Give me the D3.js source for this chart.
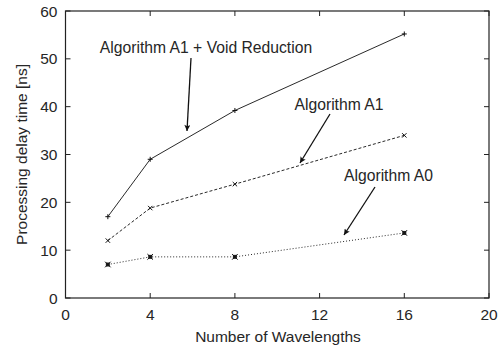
<!DOCTYPE html>
<html>
<head>
<meta charset="utf-8">
<script src="https://cdn.jsdelivr.net/npm/d3@7"></script>
<style>
  body { margin: 0; background: #fff; }
  text { font-family: "Liberation Sans", Arial, sans-serif; fill: #262626; }
</style>
</head>
<body>
<svg id="chart" width="504" height="348"></svg>
<script>
// data
const wavelengths = [2, 4, 8, 16];
const delayA1VR = [17, 29, 39.2, 55.2];
const delayA1 = [12, 18.8, 23.8, 34];
const delayA0 = [7, 8.6, 8.6, 13.6];
const xTicks = [0, 4, 8, 12, 16, 20];
const yTicks = [0, 10, 20, 30, 40, 50, 60];

const svg = d3.select('#chart');
const margin = { left: 65.5, right: 15, top: 11, bottom: 50 };
const W = 504, H = 348;

const x = d3.scaleLinear().domain([0, 20]).range([margin.left, W - margin.right]);
const y = d3.scaleLinear().domain([0, 60]).range([H - margin.bottom, margin.top]);

// frame
svg.append('rect')
    .attr('x', x(0)).attr('y', y(60))
    .attr('width', x(20) - x(0)).attr('height', y(0) - y(60))
    .attr('fill', 'none').attr('stroke', '#222').attr('stroke-width', 1.2);

// inward ticks on all four sides
const tickLen = 5;
const fs = 15.5;
xTicks.forEach(t => {
    svg.append('line').attr('x1', x(t)).attr('x2', x(t))
        .attr('y1', y(0)).attr('y2', y(0) - tickLen).attr('stroke', '#222');
    svg.append('line').attr('x1', x(t)).attr('x2', x(t))
        .attr('y1', y(60)).attr('y2', y(60) + tickLen).attr('stroke', '#222');
    svg.append('text').attr('x', x(t)).attr('y', y(0) + 22)
        .attr('text-anchor', 'middle').attr('font-size', fs).text(t);
});
yTicks.forEach(t => {
    svg.append('line').attr('x1', x(0)).attr('x2', x(0) + tickLen)
        .attr('y1', y(t)).attr('y2', y(t)).attr('stroke', '#222');
    svg.append('line').attr('x1', x(20)).attr('x2', x(20) - tickLen)
        .attr('y1', y(t)).attr('y2', y(t)).attr('stroke', '#222');
    svg.append('text').attr('x', x(0) - 8).attr('y', y(t) + 5.5)
        .attr('text-anchor', 'end').attr('font-size', fs).text(t);
});

// axis titles
svg.append('text').attr('x', 278).attr('y', 342)
    .attr('text-anchor', 'middle').attr('font-size', fs).text('Number of Wavelengths');
svg.append('text')
    .attr('transform', `translate(27,${(y(0) + y(60)) / 2}) rotate(-90)`)
    .attr('text-anchor', 'middle').attr('font-size', fs).text('Processing delay time [ns]');

// series
const series = [
    { values: delayA1VR, dash: null, marker: 'plus' },
    { values: delayA1, dash: '3,2', marker: 'cross' },
    { values: delayA0, dash: '1,2', marker: 'star' }
];
const line = d3.line().x(d => x(d[0])).y(d => y(d[1]));

series.forEach(s => {
    const pts = wavelengths.map((w, i) => [w, s.values[i]]);
    svg.append('path').datum(pts)
        .attr('d', line)
        .attr('fill', 'none').attr('stroke', '#111').attr('stroke-width', 0.9)
        .attr('stroke-dasharray', s.dash);
    pts.forEach(p => {
        const cx = x(p[0]), cy = y(p[1]);
        const g = svg.append('g').attr('stroke', '#111').attr('stroke-width', 1);
        if (s.marker === 'plus') {
            g.append('line').attr('x1', cx - 2.5).attr('x2', cx + 2.5).attr('y1', cy).attr('y2', cy);
            g.append('line').attr('x1', cx).attr('x2', cx).attr('y1', cy - 2.5).attr('y2', cy + 2.5);
        }
        if (s.marker === 'cross') {
            g.append('line').attr('x1', cx - 2.2).attr('x2', cx + 2.2).attr('y1', cy - 2.2).attr('y2', cy + 2.2);
            g.append('line').attr('x1', cx - 2.2).attr('x2', cx + 2.2).attr('y1', cy + 2.2).attr('y2', cy - 2.2);
        }
        if (s.marker === 'star') {
            g.append('rect').attr('x', cx - 2).attr('y', cy - 2).attr('width', 4).attr('height', 4)
                .attr('fill', '#222').attr('stroke', 'none');
            g.append('line').attr('x1', cx - 2.8).attr('x2', cx + 2.8).attr('y1', cy - 2.8).attr('y2', cy + 2.8);
            g.append('line').attr('x1', cx - 2.8).attr('x2', cx + 2.8).attr('y1', cy + 2.8).attr('y2', cy - 2.8);
        }
    });
});

// annotations with arrows
svg.append('defs').append('marker')
    .attr('id', 'head').attr('viewBox', '0 0 10 10')
    .attr('refX', 10).attr('refY', 5)
    .attr('markerWidth', 10).attr('markerHeight', 6)
    .attr('markerUnits', 'userSpaceOnUse')
    .attr('orient', 'auto')
    .append('path').attr('d', 'M0,0 L10,5 L0,10 L2,5 Z').attr('fill', '#111');

const notes = [
    { text: 'Algorithm A1 + Void Reduction', tx: 206, ty: 53, from: [191, 58], to: [187, 131] },
    { text: 'Algorithm A1', tx: 339, ty: 110, from: [330, 114], to: [300, 163] },
    { text: 'Algorithm A0', tx: 388.5, ty: 181, from: [375, 187], to: [344, 235] }
];
notes.forEach(n => {
    svg.append('text').attr('x', n.tx).attr('y', n.ty)
        .attr('text-anchor', 'middle').attr('font-size', 15.7).text(n.text);
    svg.append('line')
        .attr('x1', n.from[0]).attr('y1', n.from[1])
        .attr('x2', n.to[0]).attr('y2', n.to[1])
        .attr('stroke', '#111').attr('stroke-width', 1.3)
        .attr('marker-end', 'url(#head)');
});
</script>
</body>
</html>
